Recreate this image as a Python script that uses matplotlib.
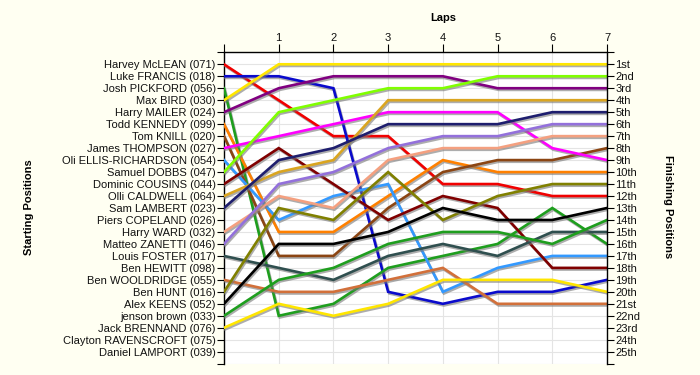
import matplotlib
matplotlib.use("Agg")
import matplotlib.pyplot as plt
import matplotlib.patheffects as pe

plt.rcParams['font.family'] = ['Liberation Sans', 'DejaVu Sans']

# Starting grid (y-axis labels, positions 1..25)
grid_names = [
    "Harvey McLEAN (071)", "Luke FRANCIS (018)", "Josh PICKFORD (056)", "Max BIRD (030)",
    "Harry MAILER (024)", "Todd KENNEDY (099)", "Tom KNILL (020)", "James THOMPSON (027)",
    "Oli ELLIS-RICHARDSON (054)", "Samuel DOBBS (047)", "Dominic COUSINS (044)",
    "Olli CALDWELL (064)", "Sam LAMBERT (023)", "Piers COPELAND (026)", "Harry WARD (032)",
    "Matteo ZANETTI (046)", "Louis FOSTER (017)", "Ben HEWITT (098)", "Ben WOOLDRIDGE (055)",
    "Ben HUNT (016)", "Alex KEENS (052)", "jenson brown (033)", "Jack BRENNAND (076)",
    "Clayton RAVENSCROFT (075)", "Daniel LAMPORT (039)",
]
finish_labels = ["1st", "2nd", "3rd"] + [f"{i}th" for i in range(4, 21)] + \
                ["21st", "22nd", "23rd", "24th", "25th"]
lap_labels = ["", "1", "2", "3", "4", "5", "6", "7"]

# Drivers with lap data (order of the lists below)
drivers = ["Harvey McLEAN", "Luke FRANCIS", "Josh PICKFORD", "Max BIRD", "Harry MAILER",
           "Todd KENNEDY", "Tom KNILL", "James THOMPSON", "Oli ELLIS-RICHARDSON",
           "Samuel DOBBS", "Dominic COUSINS", "Olli CALDWELL", "Sam LAMBERT", "Harry WARD",
           "Matteo ZANETTI", "Louis FOSTER", "Ben WOOLDRIDGE", "Ben HUNT", "Alex KEENS",
           "jenson brown", "Jack BRENNAND"]
colors = ["#F00000", "#0A0ACC", "#1E9E1E", "#FFE600", "#800080",
          "#FF8000", "#8B4513", "#FF00FF", "#3399FF",
          "#80FF00", "#800000", "#DAA520", "#1E1E6E", "#F4A080",
          "#9370DB", "#2F4F4F", "#D2703A", "#808000", "#000000",
          "#1E9E1E", "#FFE600"]

# Positions at each lap, in driver order
lap0 = [1, 2, 3, 4, 5, 6, 7, 8, 9, 10, 11, 12, 13, 15, 16, 17, 19, 20, 21, 22, 23]
lap1 = [4, 2, 22, 1, 3, 15, 17, 7, 14, 5, 8, 10, 9, 12, 11, 18, 20, 13, 16, 19, 21]
lap2 = [7, 3, 21, 1, 2, 15, 17, 6, 12, 4, 11, 9, 8, 13, 10, 19, 20, 14, 16, 18, 22]
lap3 = [7, 20, 18, 1, 2, 12, 13, 5, 11, 3, 14, 4, 6, 9, 8, 17, 19, 10, 15, 16, 21]
lap4 = [11, 21, 17, 1, 2, 9, 10, 5, 20, 3, 12, 4, 6, 8, 7, 16, 18, 14, 13, 15, 19]
lap5 = [11, 20, 16, 1, 3, 10, 9, 5, 18, 2, 13, 4, 6, 8, 7, 17, 21, 12, 14, 15, 19]
lap6 = [12, 20, 13, 1, 3, 10, 9, 8, 17, 2, 18, 4, 5, 7, 6, 15, 21, 11, 14, 16, 19]
lap7 = [12, 19, 16, 1, 3, 10, 8, 9, 17, 2, 18, 4, 5, 7, 6, 15, 21, 11, 13, 14, 20]
laps = [lap0, lap1, lap2, lap3, lap4, lap5, lap6, lap7]

fig = plt.figure(figsize=(7.0, 3.75), dpi=100, facecolor="#FFFFF2")
ax = fig.add_axes([224/700, 1-363.7/375, (607-224)/700, (363.7-52.3)/375])
ax.set_facecolor("#FFFFFF")

lap_x = list(range(len(laps)))
for i, name in enumerate(drivers):
    ys = [lp[i] for lp in laps]
    ax.plot(lap_x, ys, color=colors[i], lw=1.9, solid_joinstyle="miter",
            path_effects=[pe.SimpleLineShadow(offset=(0.8, -1.2), shadow_color="#777777", alpha=0.6),
                          pe.Normal()], zorder=3)

n = len(grid_names)
ax.set_ylim(n + 1, 0)
ax.set_xlim(0, len(laps) - 1)

ax.set_yticks(range(0, n + 2))
ax.set_yticklabels([""] + grid_names + [""], fontsize=8, color="#111111")
ax.tick_params(axis="y", direction="out", length=5, width=0.8, pad=1)

ax2 = ax.twinx()
ax2.set_ylim(n + 1, 0)
ax2.set_yticks(range(0, n + 2))
ax2.set_yticklabels([""] + finish_labels + [""], fontsize=8, color="#111111")
ax2.tick_params(axis="y", direction="out", length=5, width=0.8, pad=1)

ax.xaxis.tick_top()
ax.set_xticks(lap_x)
ax.set_xticklabels(lap_labels, fontsize=8, color="#111111")
ax.tick_params(axis="x", direction="out", length=6, width=0.8, pad=1)

ax.grid(True, color="#E4E4E4", lw=0.8, zorder=0)
ax.set_axisbelow(True)

for a in (ax, ax2):
    a.spines["bottom"].set_visible(False)
    for s in ("left", "right", "top"):
        a.spines[s].set_linewidth(1.0)
        a.spines[s].set_color("black")
ax2.spines["left"].set_visible(False)
ax2.spines["top"].set_visible(False)
ax.spines["right"].set_visible(False)

fig.text(443/700, 1-18/375, "Laps", ha="center", va="center", fontsize=8, fontweight="bold")
fig.text(29/700, 1-207/375, "Starting Positions", ha="center", va="center", rotation=90,
         fontsize=8, fontweight="bold")
fig.text(668/700, 1-207/375, "Finishing Positions", ha="center", va="center", rotation=270,
         fontsize=8, fontweight="bold")

fig.savefig("out.png", dpi=100, facecolor=fig.get_facecolor())
